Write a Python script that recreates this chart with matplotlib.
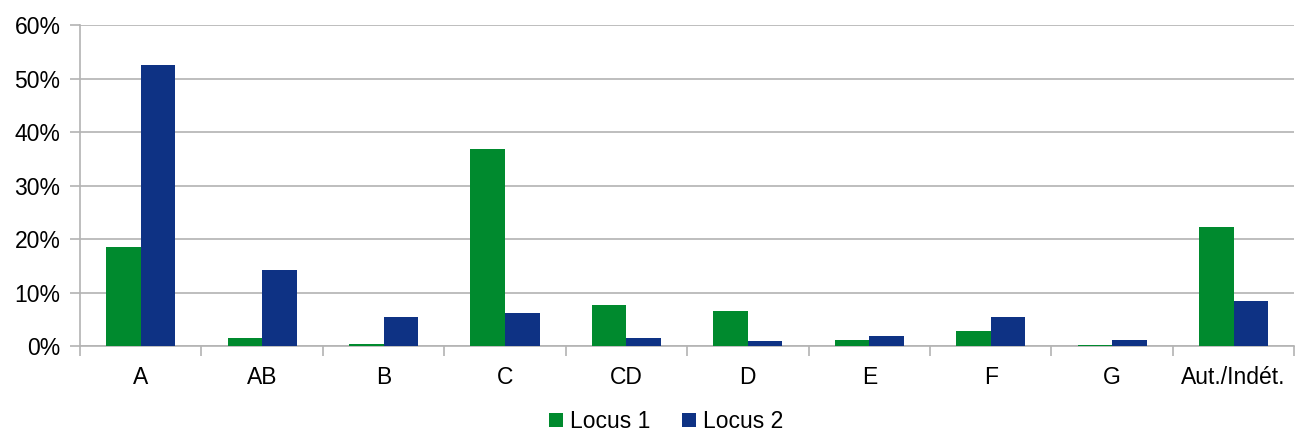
import matplotlib
matplotlib.use("Agg")
import matplotlib.pyplot as plt
import numpy as np
from matplotlib.ticker import FixedLocator, PercentFormatter

categories = ["A", "AB", "B", "C", "CD", "D", "E", "F", "G", "Aut./Indét."]
locus1 = [18.5, 1.6, 0.5, 36.9, 7.7, 6.6, 1.3, 2.8, 0.25, 22.3]
locus2 = [52.6, 14.2, 5.5, 6.2, 1.6, 1.1, 1.9, 5.5, 1.3, 8.5]
yticks = [0, 10, 20, 30, 40, 50, 60]

plt.rcParams['font.family'] = ['Liberation Sans', 'DejaVu Sans']
fig = plt.figure(figsize=(12.96, 4.32), dpi=100)
ax = fig.add_axes([0.0617, 0.198, 0.937, 0.744])

x = np.arange(len(categories))
w = 0.285
green = "#008a2e"
blue = "#0e3284"
ax.bar(x - w/2, locus1, w, color=green, label="Locus 1", zorder=3)
ax.bar(x + w/2, locus2, w, color=blue, label="Locus 2", zorder=3)

ax.set_xlim(-0.5, len(categories) - 0.5)
ax.set_ylim(0, 60)
ax.set_yticks(yticks)
ax.yaxis.set_major_formatter(PercentFormatter(decimals=0))
ax.yaxis.grid(True, color="#b3b3b3", linewidth=1.2, zorder=0)
ax.set_xticks(x)
ax.set_xticklabels(categories)
ax.xaxis.set_minor_locator(FixedLocator(np.arange(-0.5, len(categories), 1.0)))
ax.tick_params(axis='x', which='major', length=0, labelsize=16.5, pad=14, colors='black')
ax.tick_params(axis='x', which='minor', length=7, color="#b3b3b3", width=1.2)
ax.tick_params(axis='y', length=7, color="#b3b3b3", width=1.2, labelsize=16.5, pad=7)
for s in ["top", "right"]:
    ax.spines[s].set_visible(False)
for s in ["left", "bottom"]:
    ax.spines[s].set_color("#b3b3b3")
    ax.spines[s].set_linewidth(1.2)

fig.legend(loc="center", bbox_to_anchor=(0.514, 0.024), ncol=2, frameon=False,
           fontsize=16.5, handlelength=0.6, handleheight=0.6, handletextpad=0.3,
           columnspacing=1.4, borderpad=0)

fig.savefig("out.png", dpi=100)
